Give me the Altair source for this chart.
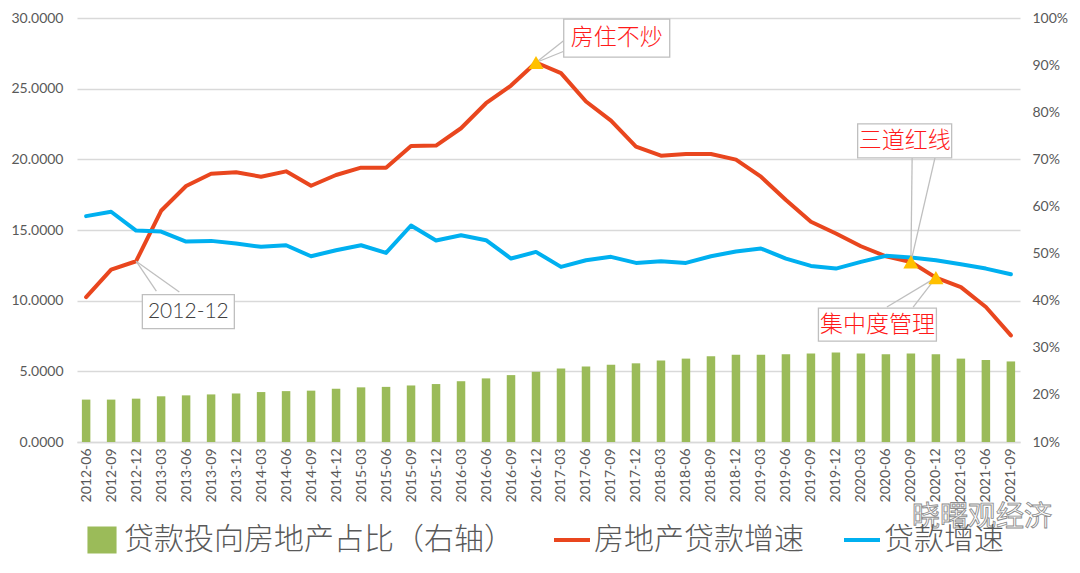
import json
import altair as alt
import pandas as pd

# ---------------- data ----------------
labels = [
    "2012-06", "2012-09", "2012-12", "2013-03", "2013-06", "2013-09", "2013-12",
    "2014-03", "2014-06", "2014-09", "2014-12", "2015-03", "2015-06", "2015-09",
    "2015-12", "2016-03", "2016-06", "2016-09", "2016-12", "2017-03", "2017-06",
    "2017-09", "2017-12", "2018-03", "2018-06", "2018-09", "2018-12", "2019-03",
    "2019-06", "2019-09", "2019-12", "2020-03", "2020-06", "2020-09", "2020-12",
    "2021-03", "2021-06", "2021-09",
]

# 贷款投向房地产占比（右轴）
share = [0.190, 0.190, 0.192, 0.197, 0.199, 0.201, 0.203, 0.206, 0.208, 0.209,
         0.213, 0.216, 0.217, 0.220, 0.223, 0.229, 0.235, 0.242, 0.249, 0.256,
         0.260, 0.264, 0.267, 0.273, 0.277, 0.282, 0.285, 0.285, 0.286, 0.288,
         0.290, 0.288, 0.286, 0.288, 0.286, 0.277, 0.274, 0.271]

# 房地产贷款增速
re_growth = [10.25, 12.19, 12.79, 16.36, 18.11, 18.98, 19.08, 18.77, 19.15, 18.13,
             18.89, 19.41, 19.41, 20.95, 20.97, 22.20, 23.97, 25.22, 26.85, 26.10,
             24.09, 22.74, 20.90, 20.26, 20.38, 20.38, 19.98, 18.77, 17.12, 15.58,
             14.75, 13.85, 13.14, 12.74, 11.63, 10.96, 9.55, 7.54]

# 贷款增速
loan_growth = [15.98, 16.29, 14.96, 14.89, 14.18, 14.23, 14.04, 13.81, 13.92, 13.14,
               13.57, 13.92, 13.38, 15.32, 14.26, 14.63, 14.28, 12.98, 13.45, 12.39,
               12.86, 13.10, 12.67, 12.79, 12.67, 13.14, 13.48, 13.69, 12.98, 12.46,
               12.27, 12.74, 13.17, 13.05, 12.86, 12.58, 12.27, 11.87]

series_names = ["贷款投向房地产占比（右轴）", "房地产贷款增速", "贷款增速"]
series_colors = ["#9BBB59", "#E9461E", "#00B0F0"]

marker_idx = [18, 33, 34]

# callout annotations (box centre / wedge ends in axis units: category index, left-axis value)
ann_text = ["2012-12", "房住不炒", "三道红线", "集中度管理"]
ann_anchor = [2, 18, 33, 34]
ann_box_x = [4.09, 21.23, 32.75, 31.66]
ann_box_y = [9.23, 28.58, 21.30, 8.30]
ann_box_w = [92, 106, 94, 118]
ann_box_h = [34, 38, 34, 33]
ann_wedge_x1 = [2.81, 19.09, 33.05, 32.04]
ann_wedge_y1 = [10.68, 28.37, 20.16, 9.55]
ann_wedge_x2 = [3.73, 19.09, 33.97, 33.09]
ann_wedge_y2 = [10.61, 27.63, 20.16, 9.55]
ann_color = ["#404040", "#FF1A1A", "#FF1A1A", "#FF1A1A"]
ann_font_size = [21, 23, 23, 23]

# ---------------- frames ----------------
df = pd.DataFrame({
    "idx": list(range(len(labels))),
    "label": labels,
    "share": share,
    "re": re_growth,
    "loan": loan_growth,
})
markers = df.iloc[marker_idx]

wedge_rows = []
for i in range(len(ann_text)):
    a = ann_anchor[i]
    wedge_rows.append({"x": a, "y": re_growth[a], "x2": ann_wedge_x1[i], "y2": ann_wedge_y1[i]})
    wedge_rows.append({"x": a, "y": re_growth[a], "x2": ann_wedge_x2[i], "y2": ann_wedge_y2[i]})
wedges = pd.DataFrame(wedge_rows)

box_rows = []
for i in range(len(ann_text)):
    w, h = ann_box_w[i], ann_box_h[i]
    r = h / w
    box_rows.append({
        "x": ann_box_x[i], "y": ann_box_y[i], "text": ann_text[i],
        "path": f"M-1,{-r:.4f}L1,{-r:.4f}L1,{r:.4f}L-1,{r:.4f}Z",
        "sz": w * w, "tcolor": ann_color[i], "fs": ann_font_size[i],
    })
boxes = pd.DataFrame(box_rows)

# ---------------- scales / axes ----------------
label_expr = json.dumps(labels, ensure_ascii=False) + "[datum.value]"
x_scale = alt.Scale(domain=[-0.165, 37.165], nice=False, zero=False)
x_axis = alt.Axis(values=list(range(len(labels))), labelExpr=label_expr, labelAngle=-90,
                  labelFont="Lato", labelFontSize=14, labelColor="#595959",
                  labelPadding=6, ticks=False, grid=False, domain=True,
                  domainColor="#D9D9D9", domainWidth=1.3, title=None, labelOverlap=False)

left_scale = alt.Scale(domain=[0, 30], nice=False, zero=False)
left_axis = alt.Axis(values=[0, 5, 10, 15, 20, 25, 30], format=".4f", grid=True,
                     gridColor="#D9D9D9", gridWidth=1.3, domain=False, ticks=False,
                     labelFont="Lato", labelFontSize=14, labelColor="#595959",
                     labelPadding=14, title=None)

right_scale = alt.Scale(domain=[0.1, 1.0], nice=False, zero=False)
right_axis = alt.Axis(orient="right", values=[0.1, 0.2, 0.3, 0.4, 0.5, 0.6, 0.7, 0.8, 0.9, 1.0],
                      format=".0%", grid=False, domain=False, ticks=False,
                      labelFont="Lato", labelFontSize=14, labelColor="#595959",
                      labelPadding=12, title=None)


def X(field):
    return alt.X(field, type="quantitative", scale=x_scale, axis=x_axis)


def Y(field):
    return alt.Y(field, type="quantitative", scale=left_scale, axis=left_axis)


# ---------------- layers ----------------
bars = alt.Chart(df).mark_bar(size=8.5, color=series_colors[0]).encode(
    x=X("idx"),
    y=alt.Y("share:Q", scale=right_scale, axis=right_axis),
    y2=alt.datum(0.1),
)

red_line = alt.Chart(df).mark_line(color=series_colors[1], strokeWidth=4,
                                   strokeJoin="round", strokeCap="round").encode(
    x=X("idx"), y=Y("re"))

blue_line = alt.Chart(df).mark_line(color=series_colors[2], strokeWidth=4,
                                    strokeJoin="round", strokeCap="round").encode(
    x=X("idx"), y=Y("loan"))

wedge_layer = alt.Chart(wedges).mark_rule(color="#BFBFBF", strokeWidth=1.3).encode(
    x=X("x"), y=Y("y"), x2="x2:Q", y2="y2:Q")

tri = alt.Chart(markers).mark_point(shape="triangle-up", filled=True, color="#FFC000",
                                    size=230, opacity=1).encode(
    x=X("idx"), y=Y("re"))

box_layer = alt.Chart(boxes).mark_point(filled=True, fill="white", stroke="#BFBFBF",
                                        strokeWidth=1.3, opacity=1).encode(
    x=X("x"), y=Y("y"),
    shape=alt.Shape("path:N", scale=None),
    size=alt.Size("sz:Q", scale=None),
)

box_text = alt.Chart(boxes).mark_text(font="Lato, 'Noto Sans CJK SC'", baseline="middle",
                                      align="center", fontWeight=300).encode(
    x=X("x"), y=Y("y"), text="text:N",
    color=alt.Color("tcolor:N", scale=None),
    size=alt.Size("fs:Q", scale=None),
)

sq_path = "M-0.97,-0.9L0.97,-0.9L0.97,0.9L-0.97,0.9Z"
ln_path = "M-1.2,-0.13L1.2,-0.13L1.2,0.13L-1.2,0.13Z"
leg = alt.Legend(orient="none", legendX=10, legendY=507, direction="horizontal",
                 title=None, labelFont="'Noto Sans CJK SC'", labelFontSize=30,
                 labelFontWeight=300,
                 labelColor="#595959", symbolSize=900, labelOffset=7,
                 columnPadding=40, labelLimit=1000, padding=0, symbolStrokeWidth=0,
                 symbolOpacity=1)
legend_layer = alt.Chart(pd.DataFrame({"series": series_names})).transform_filter(
    "false").mark_point(filled=True, opacity=1).encode(
    color=alt.Color("series:N", scale=alt.Scale(domain=series_names, range=series_colors),
                    legend=leg),
    shape=alt.Shape("series:N", scale=alt.Scale(domain=series_names,
                                                range=[sq_path, ln_path, ln_path]),
                    legend=leg),
)

watermark = alt.Chart(pd.DataFrame({"t": ["晓曙观经济"]})).mark_text(
    font="'Noto Sans CJK SC'", fontSize=28, fill="white", fillOpacity=0.55,
    stroke="#8C8C8C", strokeWidth=0.9, align="center", baseline="middle",
).encode(text="t:N", x=alt.value(905), y=alt.value(500))

left = alt.layer(red_line, blue_line, wedge_layer, tri, box_layer, box_text, legend_layer)

chart = alt.layer(bars, left, watermark).resolve_scale(y="independent").properties(
    width=943, height=424,
    padding={"left": 77, "top": 18, "right": 60, "bottom": 131},
    autosize=alt.AutoSizeParams(type="none"),
    background="white",
).configure_view(stroke=None)

chart.save("out.html", embed_options={"renderer": "svg", "actions": False})
